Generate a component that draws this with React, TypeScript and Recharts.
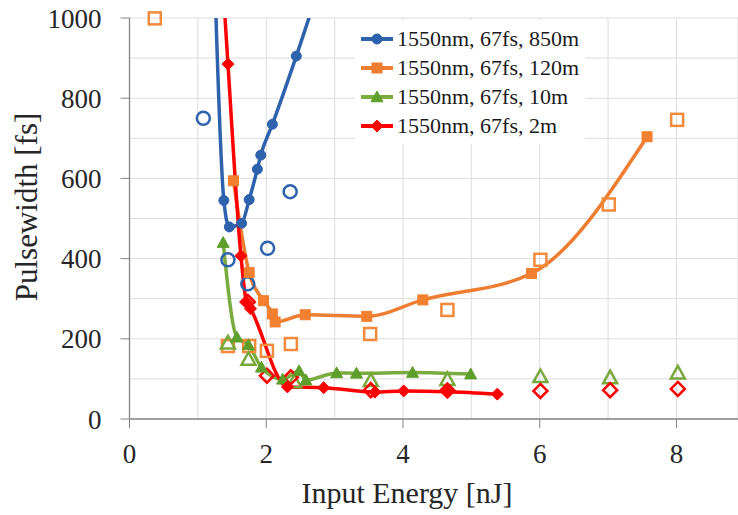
import { ComposedChart, Line, Scatter, XAxis, YAxis, CartesianGrid, Legend, Label } from 'recharts';

const FONT = 'Liberation Serif, DejaVu Serif, serif';

// axis ticks
const xTicks = [0, 2, 4, 6, 8];
const xGridTicks = [0, 1, 2, 3, 4, 5, 6, 7, 8];
const yTicks = [0, 200, 400, 600, 800, 1000];
const yGridTicks = [0, 100, 200, 300, 400, 500, 600, 700, 800, 900, 1000];

// filled markers + smoothed line (first/last points run off the top of the plot)
const fit850m = [
  { x: 1.22, y: 1250 }, { x: 1.38, y: 545 }, { x: 1.46, y: 479 }, { x: 1.64, y: 488 },
  { x: 1.75, y: 547 }, { x: 1.87, y: 623 }, { x: 1.92, y: 658 }, { x: 2.09, y: 735 },
  { x: 2.44, y: 905 }, { x: 2.8, y: 1090 },
];
const fit120m = [
  { x: 1.52, y: 594 }, { x: 1.75, y: 365 }, { x: 1.96, y: 295 }, { x: 2.09, y: 262 },
  { x: 2.13, y: 242 }, { x: 2.57, y: 260 }, { x: 3.47, y: 256 }, { x: 4.29, y: 297 },
  { x: 5.88, y: 363 }, { x: 7.57, y: 704 },
];
const fit10m = [
  { x: 1.37, y: 440 }, { x: 1.57, y: 204 }, { x: 1.74, y: 185 }, { x: 1.93, y: 129 },
  { x: 2.24, y: 99 }, { x: 2.48, y: 120 }, { x: 2.58, y: 97 }, { x: 3.03, y: 115 },
  { x: 3.32, y: 114 }, { x: 4.14, y: 116 }, { x: 4.99, y: 112 },
];
const fit2m = [
  { x: 1.36, y: 1100 }, { x: 1.44, y: 885 }, { x: 1.63, y: 407 }, { x: 1.71, y: 292 },
  { x: 1.77, y: 275 }, { x: 2.31, y: 80 }, { x: 2.84, y: 78 }, { x: 3.59, y: 67 },
  { x: 4.01, y: 70 }, { x: 4.65, y: 68 }, { x: 5.38, y: 62 },
];

// hollow markers (measured points, no line)
const meas850m = [
  { x: 1.08, y: 750 }, { x: 1.44, y: 397 }, { x: 1.73, y: 337 }, { x: 2.02, y: 426 }, { x: 2.35, y: 567 },
];
const meas120m = [
  { x: 0.37, y: 999 }, { x: 1.44, y: 182 }, { x: 1.75, y: 182 }, { x: 2.01, y: 170 }, { x: 2.36, y: 187 },
  { x: 3.52, y: 212 }, { x: 4.65, y: 272 }, { x: 6.01, y: 397 }, { x: 7.01, y: 535 }, { x: 8.01, y: 746 },
];
const meas10m = [
  { x: 1.44, y: 190 }, { x: 1.74, y: 149 }, { x: 2.41, y: 93 }, { x: 3.53, y: 96 }, { x: 4.65, y: 99 },
  { x: 6.01, y: 106 }, { x: 7.03, y: 103 }, { x: 8.02, y: 115 },
];
const meas2m = [
  { x: 1.73, y: 292 }, { x: 2.01, y: 108 }, { x: 2.36, y: 104 }, { x: 3.53, y: 72 }, { x: 4.65, y: 71 },
  { x: 6.01, y: 70 }, { x: 7.03, y: 72 }, { x: 8.02, y: 75 },
];

const BLUE = '#2E62AC';
const ORANGE = '#ED7D31';
const GREEN_LINE = '#7AAB3F';
const GREEN = '#5E9E2B';
const RED = '#FF0000';

type Kind = 'circle' | 'square' | 'triangle' | 'diamond';

function marker(kind: Kind, cx: number, cy: number, color: string, hollow: boolean, key?: string) {
  const fill = hollow ? '#fff' : color;
  const sw = hollow ? 2.5 : 1;
  const fillOpacity = hollow ? 0 : 1;
  if (kind === 'circle') {
    const r = hollow ? 6.5 : 5;
    return <circle key={key} cx={cx} cy={cy} r={r} fill={fill} fillOpacity={fillOpacity} stroke={color} strokeWidth={sw} />;
  }
  if (kind === 'square') {
    const h = hollow ? 6 : 5;
    return <rect key={key} x={cx - h} y={cy - h} width={h * 2} height={h * 2} fill={fill} fillOpacity={fillOpacity} stroke={color} strokeWidth={sw} />;
  }
  if (kind === 'triangle') {
    const h = hollow ? 7 : 6;
    const pts = `${cx},${cy - h} ${cx + h},${cy + h * 0.8} ${cx - h},${cy + h * 0.8}`;
    return <polygon key={key} points={pts} fill={fill} fillOpacity={fillOpacity} stroke={color} strokeWidth={sw} strokeLinejoin="miter" />;
  }
  const h = hollow ? 7 : 6;
  const pts = `${cx},${cy - h} ${cx + h},${cy} ${cx},${cy + h} ${cx - h},${cy}`;
  return <polygon key={key} points={pts} fill={fill} fillOpacity={fillOpacity} stroke={color} strokeWidth={sw} />;
}

const dotOf = (kind: Kind, color: string) => (p: any) =>
  marker(kind, p.cx, p.cy, color, false, `d-${kind}-${p.index}`);

const shapeOf = (kind: Kind, color: string) => (p: any) =>
  marker(kind, p.cx, p.cy, color, true);

const legendItems: { name: string; color: string; kind: Kind }[] = [
  { name: '1550nm, 67fs, 850m', color: BLUE, kind: 'circle' },
  { name: '1550nm, 67fs, 120m', color: ORANGE, kind: 'square' },
  { name: '1550nm, 67fs, 10m', color: GREEN, kind: 'triangle' },
  { name: '1550nm, 67fs, 2m', color: RED, kind: 'diamond' },
];

function LegendBox() {
  return (
    <div style={{ background: '#fff', padding: '4px 6px', fontFamily: FONT, fontSize: 22, lineHeight: '29px', color: '#1a1a1a', whiteSpace: 'nowrap' }}>
      {legendItems.map((it) => (
        <div key={it.name} style={{ display: 'flex', alignItems: 'center' }}>
          <svg width={32} height={14} style={{ marginRight: 4 }}>
            <line x1={0} y1={7} x2={32} y2={7} stroke={it.kind === 'triangle' ? GREEN_LINE : it.color} strokeWidth={4} />
            {marker(it.kind, 16, 7, it.color, false)}
          </svg>
          <span>{it.name}</span>
        </div>
      ))}
    </div>
  );
}

export default function App() {
  const tickStyle = { fontFamily: FONT, fontSize: 27, fill: '#262626' };
  return (
    <div style={{ position: 'absolute', left: 0, top: 0, width: 738, height: 515, background: '#fff', fontFamily: FONT }}>
      <ComposedChart width={738} height={515} margin={{ top: 18, right: 0, bottom: 0, left: 19.5 }}>
        <XAxis xAxisId="grid" type="number" dataKey="x" domain={[0, 8.9]} ticks={xGridTicks} hide />
        <YAxis yAxisId="grid" type="number" domain={[0, 1000]} ticks={yGridTicks} hide />
        <CartesianGrid xAxisId="grid" yAxisId="grid" stroke="#DCDCDC" strokeWidth={1} />
        <XAxis
          type="number"
          dataKey="x"
          domain={[0, 8.9]}
          ticks={xTicks}
          height={96}
          tick={tickStyle}
          tickSize={9}
          tickMargin={16}
          axisLine={{ stroke: '#868686', strokeWidth: 1.3 }}
          tickLine={{ stroke: '#868686' }}
        >
          <Label
            content={(props: any) => {
              const vb = props.viewBox;
              return (
                <text x={407} y={vb.y + vb.height - 12} textAnchor="middle" fontFamily={FONT} fontSize={30} fill="#262626">
                  Input Energy [nJ]
                </text>
              );
            }}
          />
        </XAxis>
        <YAxis
          type="number"
          domain={[0, 1000]}
          ticks={yTicks}
          allowDataOverflow
          width={110}
          tick={tickStyle}
          tickSize={9}
          tickMargin={19}
          axisLine={{ stroke: '#868686', strokeWidth: 1.3 }}
          tickLine={{ stroke: '#868686' }}
        >
          <Label
            content={() => (
              <text x={37} y={207} transform="rotate(-90, 37, 207)" textAnchor="middle" fontFamily={FONT} fontSize={31} fill="#262626">
                Pulsewidth [fs]
              </text>
            )}
          />
        </YAxis>

        <Legend layout="vertical" align="center" verticalAlign="middle" content={() => <LegendBox />} wrapperStyle={{ left: 355, top: 20, width: 'auto' }} />

        <Line data={fit850m} dataKey="y" name="1550nm, 67fs, 850m" type="monotone" stroke={BLUE} strokeWidth={3.5} dot={dotOf('circle', BLUE)} isAnimationActive={false} legendType="none" />
        <Line data={fit120m} dataKey="y" name="1550nm, 67fs, 120m" type="monotone" stroke={ORANGE} strokeWidth={3.5} dot={dotOf('square', '#F28030')} isAnimationActive={false} legendType="none" />
        <Line data={fit10m} dataKey="y" name="1550nm, 67fs, 10m" type="monotone" stroke={GREEN_LINE} strokeWidth={3.5} dot={dotOf('triangle', GREEN)} isAnimationActive={false} legendType="none" />
        <Line data={fit2m} dataKey="y" name="1550nm, 67fs, 2m" type="monotone" stroke={RED} strokeWidth={3.5} dot={dotOf('diamond', RED)} isAnimationActive={false} legendType="none" />

        <Scatter data={meas850m} dataKey="y" yAxisId="grid" xAxisId="grid" shape={shapeOf('circle', BLUE)} isAnimationActive={false} legendType="none" />
        <Scatter data={meas120m} dataKey="y" yAxisId="grid" xAxisId="grid" shape={shapeOf('square', '#F28A3C')} isAnimationActive={false} legendType="none" />
        <Scatter data={meas10m} dataKey="y" yAxisId="grid" xAxisId="grid" shape={shapeOf('triangle', '#78A83C')} isAnimationActive={false} legendType="none" />
        <Scatter data={meas2m} dataKey="y" yAxisId="grid" xAxisId="grid" shape={shapeOf('diamond', RED)} isAnimationActive={false} legendType="none" />
      </ComposedChart>
    </div>
  );
}
